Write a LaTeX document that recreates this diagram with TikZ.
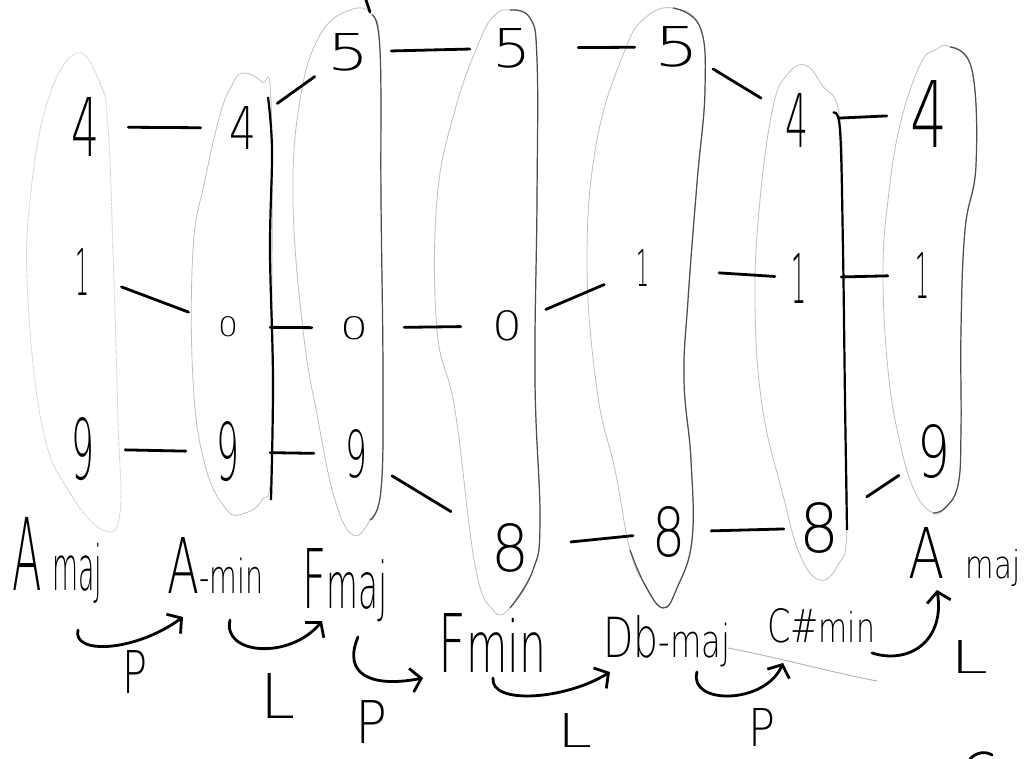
\documentclass[tikz,border=0pt]{standalone}
\usepackage{fontspec}
\IfFontExistsTF{DejaVu Sans ExtraLight}{\setmainfont{DejaVu Sans ExtraLight}}{\setmainfont{Liberation Sans}}
\usepackage{graphicx}
\usetikzlibrary{arrows.meta}
\newcommand\fs[1]{\fontsize{#1}{#1}\selectfont}
\newcommand\fit[3]{\resizebox{#1pt}{#2pt}{#3}}
\tikzset{
 dig/.style={circle, inner sep=0pt, minimum size=84pt},
 lab/.style={inner sep=0pt, anchor=base west},
 link/.style={line width=2.8pt, line cap=round},
 harrow/.style={line width=2.8pt, line cap=round, -{Straight Barb[length=10pt,width=24pt,line width=2.8pt]}},
 faint/.style={gray!50, line width=0.8pt},
 dotfaint/.style={gray!50, line width=0.9pt, densely dotted},
 pencil/.style={black!70, line width=1.2pt},
 ink/.style={black, line width=2.2pt},
}
\begin{document}
\begin{tikzpicture}[x=1pt,y=-1pt]
\useasboundingbox (0,0) rectangle (1029,759);
\fill[white] (0,0) rectangle (1029,759);

% ---- chord outlines ----
\draw[dotfaint] plot[smooth cycle, tension=0.7] coordinates {(77,53) (100,83) (108,127) (113,250) (118,420) (120,513) (103,530) (70,493) (43,430) (28,300) (30,200) (48,100)};
\draw[faint] plot[smooth cycle, tension=0.7] coordinates {(243,73) (262,82) (271,100) (272,300) (271,470) (262,500) (245,513) (227,510) (205,465) (193,380) (193,250) (205,180) (220,115) (232,85)};
\draw[ink] plot[smooth, tension=0.6] coordinates {(268,97) (272,150) (270,250) (273,380) (271,500)};
\draw[faint] plot[smooth cycle, tension=0.7] coordinates {(350,10) (372,15) (380,50) (381,200) (383,380) (381,490) (370,520) (353,535) (335,500) (318,420) (303,330) (293,200) (300,100) (320,35)};
\draw[pencil] plot[smooth, tension=0.7] coordinates {(372,15) (380,50) (381,200) (383,380) (381,490) (370,520)};
\draw[faint] plot[smooth cycle, tension=0.7] coordinates {(510,10) (530,18) (537,60) (537,200) (535,380) (540,520) (533,570) (510,608) (493,610) (475,565) (455,410) (437,330) (437,200) (455,110) (480,40) (495,15)};
\draw[pencil] plot[smooth, tension=0.7] coordinates {(510,10) (530,18) (537,60) (537,200) (535,380) (540,520) (533,570) (510,608)};
\draw[faint] plot[smooth cycle, tension=0.7] coordinates {(673,8) (700,27) (705,90) (697,183) (688,300) (684,380) (691,460) (692,540) (677,588) (663,608) (645,585) (630,550) (615,470) (597,390) (587,260) (597,140) (625,50) (645,18)};
\draw[pencil] plot[smooth, tension=0.7] coordinates {(673,8) (700,27) (705,90) (697,183) (688,300) (684,380) (691,460) (692,540) (677,588) (663,608) (645,585) (630,550)};
\draw[faint] plot[smooth cycle, tension=0.7] coordinates {(805,65) (822,85) (840,120) (843,250) (845,400) (847,530) (838,565) (820,580) (800,555) (783,495) (762,405) (755,300) (760,200) (773,107) (787,75)};
\draw[ink] plot[smooth, tension=0.6] coordinates {(833,113) (840,130) (843,250) (845,400) (847,530)};
\draw[faint] plot[smooth cycle, tension=0.7] coordinates {(950,47) (972,70) (976,165) (965,230) (961,330) (961,430) (958,485) (945,508) (933,513) (915,492) (900,443) (888,370) (883,273) (888,200) (900,125) (920,65) (935,50)};
\draw[pencil] plot[smooth, tension=0.7] coordinates {(950,47) (972,70) (976,165) (965,230) (961,330) (961,430) (958,485) (945,508) (933,513)};

% ---- pitch classes ----
\node[dig] (a4) at (86,127) {\fit{28}{59}{4}};
\node[dig] (a1) at (82,272) {\fit{14}{47}{1}};
\node[dig] (a9) at (83,449) {\fit{23}{62}{9}};
\node[dig] (b4) at (243,128) {\fit{27}{43}{4}};
\node[dig] (b0) at (228,327) {\fit{20}{20}{0}};
\node[dig] (b9) at (228,452) {\fit{23}{59}{9}};
\node[dig] (c5) at (349,52) {\fit{42}{37}{5}};
\node[dig] (c0) at (354,328) {\fit{28}{23}{0}};
\node[dig] (c9) at (356,454) {\fit{22}{48}{9}};
\node[dig] (d5) at (512,48) {\fit{39}{39}{5}};
\node[dig] (d0) at (507,326) {\fit{30}{30}{0}};
\node[dig] (d8) at (511,548) {\fit{38}{48}{8}};
\node[dig] (e5) at (677,47) {\fit{45}{40}{5}};
\node[dig] (e1) at (643,268) {\fit{13}{37}{1}};
\node[dig] (e8) at (669,532) {\fit{33}{50}{8}};
\node[dig] (f4) at (797,120) {\fit{23}{54}{4}};
\node[dig] (f1) at (799,278) {\fit{15}{50}{1}};
\node[dig] (f8) at (820,528) {\fit{40}{50}{8}};
\node[dig] (g4) at (929,114) {\fit{37}{67}{4}};
\node[dig] (g1) at (922,275) {\fit{14}{46}{1}};
\node[dig] (g9) at (934,452) {\fit{33}{53}{9}};

% ---- voice leading ----
\draw[link] (a4) -- (b4);
\draw[link] (a1) -- (b0);
\draw[link] (a9) -- (b9);
\draw[link] (b4) -- (c5);
\draw[link] (b0) -- (c0);
\draw[link] (b9) -- (c9);
\draw[link] (c5) -- (d5);
\draw[link, shorten <=8pt, shorten >=4pt] (c0) -- (d0);
\draw[link, shorten >=28pt] (c9) -- (d8);
\draw[link, shorten <=24pt] (d5) -- (e5);
\draw[link] (d0) -- (e1);
\draw[link, shorten <=18pt, shorten >=-6pt] (d8) -- (e8);
\draw[link] (e5) -- (f4);
\draw[link, shorten <=34pt, shorten >=-18pt] (e1) -- (f1);
\draw[link, shorten >=-6pt] (e8) -- (f8);
\draw[link] (f4) -- (g4);
\draw[link, shorten >=-8pt] (f1) -- (g1);
\draw[link, shorten <=14pt] (f8) -- (g9);

% ---- chord names ----
\node[lab] (n1) at (12,590) {\fit{90}{73}{\fs{20}A\hspace{5pt}\fs{12.4}maj}};
\node[lab] (n2) at (167,593) {\fit{96}{56}{\fs{20}A\fs{12.2}-min}};
\node[lab] (n3) at (302,608) {\fit{85}{60}{\fs{20}F\fs{15.6}maj}};
\node[lab] (n4) at (438,672) {\fit{108}{59}{\fs{20}F\fs{17.6}min}};
\node[lab] (n5) at (603,657) {\fit{127}{42}{\fs{20}Db\fs{16.4}-maj}};
\node[lab] (n6) at (767,642) {\fit{108}{34}{\fs{20}C\#\fs{17.8}min}};
\node[lab] (n7) at (908,578) {\fit{112}{51}{\fs{20}A\hspace{8pt}\fs{11}maj}};

% ---- transformation arrows ----
\coordinate (s1) at (78,630);  \coordinate (t1) at (183,617);
\coordinate (s2) at (230,620); \coordinate (t2) at (322,621);
\coordinate (s3) at (358,637); \coordinate (t3) at (423,678);
\coordinate (s4) at (493,678); \coordinate (t4) at (610,672);
\coordinate (s5) at (697,672); \coordinate (t5) at (783,663);
\coordinate (s6) at (872,653); \coordinate (t6) at (937,590);
\draw[harrow] (s1) .. controls (72,655) and (135,652) .. (t1);
\draw[harrow] (s2) .. controls (222,655) and (290,660) .. (t2);
\draw[harrow] (s3) .. controls (342,675) and (372,688) .. (t3);
\draw[harrow] (s4) .. controls (490,705) and (565,700) .. (t4);
\draw[harrow] (s5) .. controls (688,705) and (765,705) .. (t5);
\draw[harrow] (s6) .. controls (910,665) and (945,640) .. (t6);

% faint pencil smudge
\coordinate (m1) at (728,648); \coordinate (m2) at (877,681);
\draw[gray!55, line width=1pt] (m1) .. controls (780,658) and (830,672) .. (m2);

% ---- P / L labels ----
\node[lab] (p1) at (122,693) {\fit{25}{43}{P}};
\node[lab] (l1) at (260,718) {\fit{35}{45}{L}};
\node[lab] (p2) at (355,743) {\fit{32}{43}{P}};
\node[lab] (l2) at (557,747) {\fit{35}{34}{L}};
\node[lab] (p3) at (748,746) {\fit{27}{38}{P}};
\node[lab] (l3) at (950,673) {\fit{38}{33}{L}};

% ---- cut-off marks at the edges ----
\coordinate (e1a) at (366,0); \coordinate (e1b) at (370,12);
\draw[link] (e1a) -- (e1b);
\coordinate (e2a) at (970,759); \coordinate (e2b) at (992,755);
\draw[link] (e2a) .. controls (976,752) and (986,751) .. (e2b);
\end{tikzpicture}
\end{document}
